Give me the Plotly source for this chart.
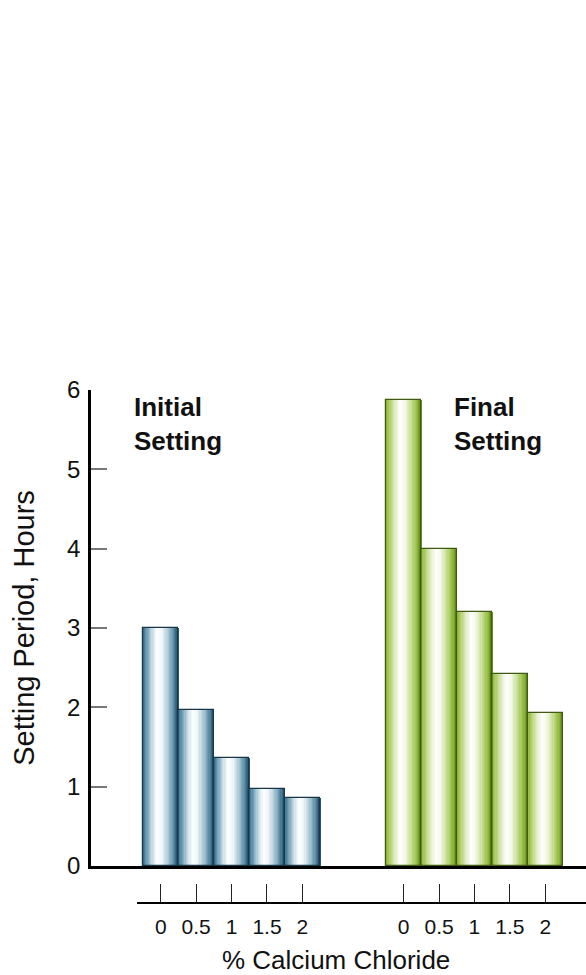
import plotly.graph_objects as go

# Setting period (hours) for each calcium chloride dosage
pct_labels = ["0", "0.5", "1", "1.5", "2"]
initial_hours = [3.0, 1.97, 1.36, 0.97, 0.86]
final_hours = [5.88, 4.0, 3.2, 2.42, 1.93]
y_ticks = [0, 1, 2, 3, 4, 5, 6]

# Horizontal layout of the two groups (in bar-width units)
group_gap = 6.86
x_range = [-1.97, 12.01]
x2_domain_start = 0.093

initial_x = [i for i in range(len(pct_labels))]
final_x = [group_gap + i for i in range(len(pct_labels))]

# Cylinder-like shading across each bar: (fraction, rgb)
blue_stops = [(0.0, (40, 96, 124)), (0.08, (88, 142, 167)), (0.28, (205, 224, 232)),
              (0.42, (255, 255, 255)), (0.55, (238, 245, 248)), (0.75, (158, 190, 205)),
              (0.92, (68, 120, 148)), (1.0, (28, 76, 102))]
green_stops = [(0.0, (134, 173, 44)), (0.1, (170, 203, 94)), (0.28, (226, 238, 200)),
               (0.42, (255, 255, 255)), (0.55, (244, 249, 232)), (0.75, (192, 218, 135)),
               (0.9, (145, 186, 60)), (1.0, (92, 130, 25))]


def shade(stops, t):
    for (t0, c0), (t1, c1) in zip(stops[:-1], stops[1:]):
        if t0 <= t <= t1:
            f = (t - t0) / (t1 - t0) if t1 > t0 else 0
            r, g, b = (round(a + (bb - a) * f) for a, bb in zip(c0, c1))
            return f"rgb({r},{g},{b})"
    r, g, b = stops[-1][1]
    return f"rgb({r},{g},{b})"


N_STRIPS = 28
fig = go.Figure()


def add_shaded_bars(xs, ys, stops, edge):
    step = 1.0 / N_STRIPS
    for k in range(N_STRIPS):
        t = (k + 0.5) / N_STRIPS
        fig.add_trace(go.Bar(
            x=xs, y=ys,
            width=step * 1.35,
            offset=-0.5 + k * step,
            marker=dict(color=shade(stops, t), line=dict(width=0)),
            hoverinfo="skip", showlegend=False,
        ))
    fig.add_trace(go.Bar(
        x=xs, y=ys, width=1.0,
        marker=dict(color="rgba(0,0,0,0)", line=dict(color=edge, width=1.2)),
        hovertemplate="%{y} h<extra></extra>", showlegend=False,
    ))


add_shaded_bars(initial_x, initial_hours, blue_stops, "#1a3646")
add_shaded_bars(final_x, final_hours, green_stops, "#3f5a12")

# Invisible carrier for the lower dosage axis
tick_x = initial_x + final_x
fig.add_trace(go.Scatter(
    x=tick_x, y=[0] * len(tick_x), xaxis="x2", yaxis="y",
    mode="markers", marker=dict(opacity=0), hoverinfo="skip", showlegend=False,
))

span = x_range[1] - x_range[0]
x2_range = [x_range[0] + x2_domain_start * span, x_range[1]]

font = "Liberation Sans, Arial, Helvetica, sans-serif"

fig.update_layout(
    width=586, height=975,
    margin=dict(l=91, r=0, t=390, b=72),
    paper_bgcolor="white", plot_bgcolor="rgba(0,0,0,0)",
    barmode="overlay", bargap=0,
    font=dict(family=font, color="#111"),
    xaxis=dict(
        domain=[0, 1], anchor="y", range=x_range,
        showline=True, linewidth=3, linecolor="black",
        showticklabels=False, ticks="", showgrid=False, zeroline=False,
    ),
    xaxis2=dict(
        domain=[x2_domain_start, 1], anchor="free", position=0, range=x2_range,
        showline=True, linewidth=2, linecolor="black",
        ticks="inside", ticklen=18, tickwidth=1, tickcolor="#222",
        tickvals=tick_x, ticktext=pct_labels + pct_labels,
        tickfont=dict(size=21, family=font, color="#111"),
        ticklabelstandoff=5,
        showgrid=False, zeroline=False,
    ),
    yaxis=dict(
        domain=[37 / 513, 1], anchor="x", range=[0, 6],
        showline=True, linewidth=2.5, linecolor="black",
        ticks="inside", ticklen=16, tickwidth=1.5, tickcolor="#777",
        tickvals=y_ticks, tickfont=dict(size=24, family=font, color="#111"),
        ticklabelstandoff=3,
        showgrid=False, zeroline=False,
        title=dict(text="Setting Period, Hours", font=dict(size=29, family=font, color="#111"),
                   standoff=24),
    ),
    annotations=[
        dict(text="<b>Initial<br>Setting</b>", xref="paper", yref="paper",
             x=0.083, y=1.0, xanchor="left", yanchor="top", align="left",
             showarrow=False, font=dict(size=26, family=font, color="#111")),
        dict(text="<b>Final<br>Setting</b>", xref="paper", yref="paper",
             x=0.729, y=1.0, xanchor="left", yanchor="top", align="left",
             showarrow=False, font=dict(size=26, family=font, color="#111")),
        dict(text="% Calcium Chloride", xref="paper", yref="paper",
             x=0.494, y=-0.111, xanchor="center", yanchor="middle",
             showarrow=False, font=dict(size=26, family=font, color="#111")),
    ],
)

fig.write_html("out.html")
